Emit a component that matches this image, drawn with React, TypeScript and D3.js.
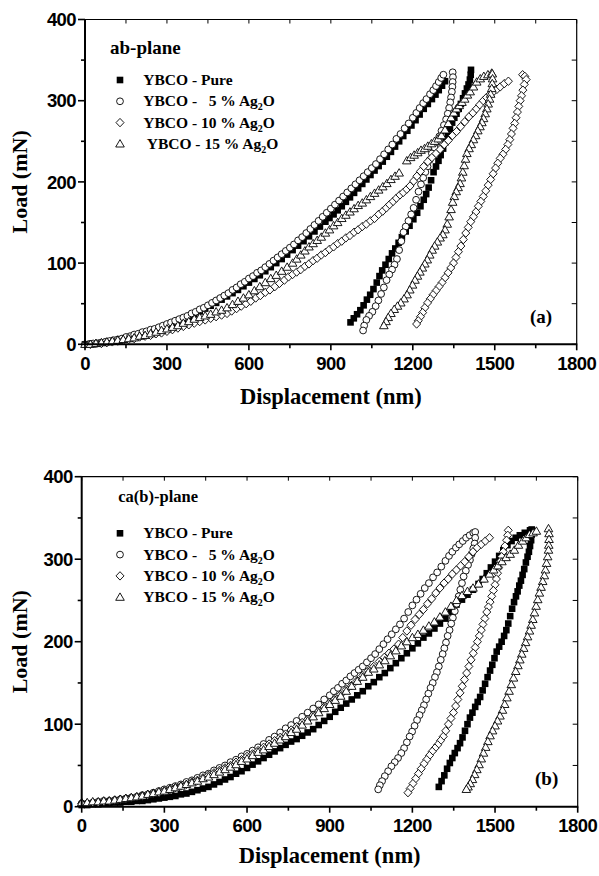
import React from 'react';
import * as d3 from 'd3';

type P = [number, number];

// ---------- axis ticks ----------
const xMajor = [0, 300, 600, 900, 1200, 1500, 1800];
const xMinor = [150, 450, 750, 1050, 1350, 1650];
const yMajor = [0, 100, 200, 300, 400];
const yMinor = [50, 150, 250, 350];

// ---------- legend ----------
const seriesKeys = ['pure', 'ag5', 'ag10', 'ag15'];
const legendPrefix = ['YBCO - Pure', 'YBCO -   5 % Ag', 'YBCO - 10 % Ag', 'YBCO - 15 % Ag'];
const legendSub = ['', '2', '2', '2'];
const legendTail = ['', 'O', 'O', 'O'];

// ---------- (a) ab-plane data: [displacement nm, load mN] ----------
const abPureLoad: P[] = [[0,0],[20,0.5],[40,1],[60,2],[80,3],[100,4],[120,5],[140,6.5],[160,8],[180,10],[200,12],[220,14],[240,16],[260,18.5],[280,21],[300,23.5],[320,26],[340,28.5],[360,31],[380,34],[400,37],[420,40.5],[440,44],[460,47.5],[480,51],[500,55],[520,59],[540,63],[560,67],[580,71.5],[600,76],[620,80.5],[640,85],[660,90],[680,95],[700,100],[720,105],[740,110.5],[760,116],[780,121.5],[800,127],[820,133],[840,139],[860,145],[880,151],[895,155.5],[910,160],[925,165],[940,170],[955,175.5],[970,181],[985,186.5],[1000,192],[1015,197.5],[1030,203],[1045,208.5],[1060,214],[1075,219.5],[1090,225],[1105,231],[1120,237],[1135,243.5],[1150,250],[1165,256.5],[1180,263],[1195,269.5],[1210,276],[1225,283],[1240,290],[1255,296],[1270,302],[1283,307.5],[1295,313],[1307,318.5],[1318,324]];
const abPureUnload: P[] = [[1413,338],[1412,332],[1409,326],[1404,320],[1398,315],[1391,309],[1384,303],[1376,296],[1368,290],[1360,284],[1352,279],[1344,273],[1336,265],[1328,257],[1320,249],[1311,241],[1302,233],[1294,226],[1285,219],[1276,212],[1267,202],[1258,193],[1249,185],[1240,178],[1228,170],[1216,162],[1202,154],[1188,146],[1174,139],[1160,132],[1148,125],[1136,118],[1124,112],[1112,105],[1100,98],[1088,91],[1078,84],[1068,76],[1056,68],[1044,61],[1032,55],[1020,48],[1008,42],[996,37],[984,32],[972,27]];
const ab5Load: P[] = [[0,0],[15,0],[30,1],[45,1],[60,2],[75,3],[90,4],[105,5],[120,6],[135,7],[150,9],[165,10],[180,12],[195,13],[210,15],[225,16],[240,18],[255,19],[270,21],[285,23],[300,25],[315,27],[330,29],[345,31],[360,33],[375,35],[390,38],[405,40],[420,43],[435,45],[450,48],[465,51],[480,54],[495,57],[510,60],[525,63],[540,67],[555,70],[570,74],[585,77],[600,81],[615,84],[630,88],[645,91],[660,95],[675,99],[690,103],[705,107],[720,111],[735,115],[750,119],[765,123],[780,128],[795,132],[810,137],[825,142],[840,147],[855,152],[870,157],[885,162],[900,167],[915,172],[930,177],[945,182],[960,187],[975,192],[990,197],[1005,202],[1020,207],[1035,212],[1050,217],[1065,222],[1080,228],[1095,234],[1110,240],[1125,246],[1140,253],[1155,259],[1170,266],[1185,272],[1200,279],[1213,285],[1225,291],[1238,297],[1250,302],[1263,308],[1275,313],[1285,318],[1295,323],[1304,328],[1312,332]];
const ab5Unload: P[] = [[1346,335],[1347,329],[1346,323],[1345,317],[1343,311],[1340,304],[1337,298],[1333,291],[1328,284],[1322,277],[1314,270],[1305,263],[1297,256],[1288,249],[1279,242],[1270,235],[1262,227],[1254,219],[1246,212],[1238,205],[1230,197],[1221,188],[1212,178],[1203,168],[1194,160],[1184,152],[1174,145],[1166,138],[1158,127],[1150,116],[1142,105],[1133,98],[1124,92],[1114,86],[1104,79],[1094,70],[1084,62],[1074,54],[1064,47],[1052,40],[1040,35],[1030,30],[1022,23],[1018,17]];
const ab10Load: P[] = [[0,0],[20,0],[40,1],[60,1],[80,2],[100,3],[120,4],[140,5],[160,6],[180,7],[200,9],[220,10],[240,11],[260,13],[280,14],[300,16],[320,18],[340,20],[360,22],[380,24],[400,26],[420,28],[440,30],[460,32],[480,34],[500,36],[520,38],[537,41],[555,44],[572,47],[590,50],[607,53],[625,57],[642,60],[660,64],[677,67],[695,71],[712,75],[730,79],[745,83],[760,86],[775,89],[790,92],[805,96],[820,99],[835,103],[850,106],[865,110],[880,113],[895,117],[910,120],[925,124],[940,127],[955,131],[970,134],[985,138],[1000,141],[1015,145],[1030,148],[1045,152],[1060,155],[1075,160],[1090,164],[1103,168],[1115,172],[1128,176],[1140,180],[1153,184],[1165,187],[1178,191],[1190,195],[1203,201],[1215,207],[1228,213],[1240,219],[1255,225],[1270,230],[1285,235],[1300,240],[1315,246],[1330,251],[1345,257],[1360,262],[1375,268],[1390,274],[1405,280],[1420,285],[1433,290],[1445,295],[1458,300],[1470,304],[1483,308],[1495,311],[1508,314],[1520,317],[1535,321],[1550,324]];
const ab10Unload: P[] = [[1602,332],[1610,330],[1615,326],[1608,320],[1603,313],[1598,306],[1593,300],[1588,293],[1583,286],[1578,279],[1573,272],[1567,266],[1561,259],[1555,252],[1548,246],[1540,240],[1530,234],[1520,229],[1511,223],[1503,217],[1494,210],[1485,203],[1476,196],[1467,189],[1458,182],[1449,176],[1440,170],[1431,163],[1422,157],[1412,151],[1403,144],[1394,137],[1385,129],[1376,121],[1367,114],[1358,107],[1349,100],[1339,94],[1329,88],[1318,82],[1307,76],[1296,71],[1285,66],[1274,61],[1264,56],[1254,51],[1244,45],[1236,39],[1228,34],[1220,29],[1214,25]];
const ab15Load: P[] = [[0,0],[20,0],[40,1],[60,2],[80,3],[100,4],[120,5],[140,6],[160,7],[180,8],[200,10],[220,11],[240,13],[260,15],[280,17],[300,19],[320,21],[340,23],[360,26],[380,28],[400,31],[420,33],[440,35],[460,37],[480,40],[500,42],[520,45],[540,49],[560,53],[580,57],[600,61],[620,66],[640,71],[660,76],[680,81],[700,85],[720,90],[740,95],[760,100],[775,105],[790,110],[805,115],[820,120],[835,124],[850,128],[865,132],[880,137],[895,141],[910,146],[925,150],[940,155],[955,159],[970,163],[985,167],[1000,171],[1015,174],[1030,178],[1045,182],[1060,186],[1075,190],[1090,194],[1105,198],[1120,203],[1135,207],[1150,211],[1178,226],[1192,230],[1205,233],[1218,236],[1230,239],[1243,241],[1255,244],[1268,247],[1280,250],[1293,253],[1305,257],[1318,264],[1330,272],[1340,279],[1350,285],[1360,290],[1370,294],[1380,298],[1390,302],[1400,307],[1410,311],[1422,317],[1434,323],[1447,327],[1460,330],[1475,332],[1489,334]];
const ab15Unload: P[] = [[1491,333],[1492,327],[1491,321],[1489,315],[1485,308],[1481,302],[1476,296],[1471,290],[1465,284],[1459,278],[1453,273],[1446,268],[1438,263],[1430,257],[1422,252],[1414,246],[1406,241],[1398,235],[1393,228],[1388,220],[1383,212],[1378,205],[1373,198],[1366,193],[1359,188],[1352,182],[1346,175],[1340,166],[1333,157],[1326,148],[1318,141],[1310,135],[1300,131],[1290,126],[1280,121],[1271,116],[1262,110],[1253,104],[1244,99],[1235,94],[1226,89],[1217,84],[1208,79],[1199,73],[1189,67],[1179,61],[1168,56],[1156,51],[1144,47],[1132,43],[1120,38],[1110,33],[1102,28],[1094,23]];

// ---------- (b) ca(b)-plane data ----------
const cbPureLoad: P[] = [[0,2],[20,2],[40,3],[60,3],[80,4],[100,4],[120,5],[140,5],[160,6],[180,6],[200,7],[220,7],[240,8],[260,9],[280,10],[300,11],[320,12],[340,13],[360,15],[380,16],[400,18],[420,20],[440,22],[460,24],[480,27],[500,30],[520,33],[540,36],[560,40],[580,43],[600,47],[620,51],[640,55],[660,59],[680,63],[700,67],[720,71],[740,75],[760,79],[780,82],[800,86],[820,90],[840,94],[860,99],[880,104],[900,109],[920,115],[940,120],[960,125],[980,130],[1000,135],[1020,140],[1040,146],[1060,151],[1080,157],[1100,162],[1120,168],[1140,174],[1160,180],[1180,186],[1200,192],[1220,198],[1240,205],[1260,210],[1280,216],[1300,222],[1320,228],[1340,236],[1360,245],[1380,251],[1400,257],[1420,263],[1440,270],[1455,276],[1470,283],[1485,290],[1500,297],[1515,304],[1530,311],[1545,317],[1560,322],[1575,326],[1590,329],[1608,332],[1627,335]];
const cbPureUnload: P[] = [[1633,336],[1633,330],[1631,323],[1627,316],[1623,309],[1618,303],[1612,296],[1606,288],[1600,281],[1594,274],[1588,268],[1582,261],[1576,255],[1569,248],[1562,240],[1555,231],[1548,222],[1541,214],[1533,207],[1524,200],[1515,194],[1506,188],[1498,180],[1490,172],[1482,165],[1473,157],[1464,149],[1455,141],[1446,133],[1437,127],[1428,121],[1418,114],[1409,108],[1400,100],[1391,92],[1382,84],[1373,77],[1364,71],[1354,65],[1345,59],[1336,53],[1326,46],[1316,38],[1306,31],[1296,24]];
const cb5Load: P[] = [[0,4],[20,4],[40,5],[60,6],[80,7],[100,7],[120,8],[140,9],[160,10],[180,11],[200,12],[220,14],[240,15],[260,17],[280,19],[300,21],[320,23],[340,25],[360,27],[380,30],[400,32],[420,35],[440,38],[460,40],[480,44],[500,47],[520,50],[540,54],[560,57],[580,61],[600,64],[620,68],[640,72],[660,76],[680,81],[700,85],[720,90],[740,95],[760,99],[780,104],[800,109],[820,114],[840,119],[860,124],[880,130],[900,135],[915,140],[930,144],[945,149],[960,153],[975,158],[990,162],[1005,166],[1020,170],[1035,175],[1050,180],[1065,185],[1080,191],[1095,197],[1110,203],[1125,209],[1140,215],[1155,221],[1170,228],[1185,236],[1200,244],[1215,251],[1230,258],[1245,265],[1260,271],[1275,278],[1290,284],[1305,291],[1320,298],[1333,304],[1345,309],[1358,314],[1370,318],[1383,322],[1395,326],[1408,329],[1421,332]];
const cb5Unload: P[] = [[1428,333],[1428,326],[1426,319],[1421,313],[1415,306],[1409,299],[1402,293],[1394,286],[1386,279],[1380,271],[1374,263],[1368,255],[1361,246],[1354,237],[1347,229],[1341,222],[1335,214],[1328,207],[1322,199],[1316,192],[1310,185],[1303,178],[1296,170],[1289,163],[1282,157],[1274,150],[1266,144],[1258,137],[1250,130],[1242,123],[1234,117],[1226,111],[1217,105],[1208,98],[1199,91],[1190,85],[1180,78],[1170,71],[1160,65],[1148,59],[1136,54],[1124,49],[1112,43],[1100,37],[1090,31],[1082,26],[1076,21]];
const cb10Load: P[] = [[0,4],[20,4],[40,5],[60,5],[80,6],[100,7],[120,8],[140,9],[160,10],[180,11],[200,12],[220,13],[240,14],[260,16],[280,17],[300,19],[320,21],[340,23],[360,25],[380,27],[400,30],[420,32],[440,35],[460,38],[480,41],[500,44],[520,47],[540,50],[560,54],[580,57],[600,61],[620,64],[640,68],[660,72],[680,76],[700,80],[720,84],[740,88],[760,93],[780,97],[800,102],[820,106],[840,111],[860,116],[880,121],[900,126],[920,131],[940,136],[960,142],[980,147],[1000,153],[1020,159],[1040,165],[1060,170],[1080,176],[1098,181],[1115,186],[1133,191],[1150,197],[1165,205],[1180,213],[1195,220],[1210,227],[1225,233],[1240,239],[1255,246],[1270,252],[1285,259],[1300,265],[1315,271],[1330,276],[1345,282],[1360,287],[1375,292],[1390,297],[1405,303],[1420,309],[1435,314],[1450,318],[1465,322],[1480,326]];
const cb10Unload: P[] = [[1548,335],[1546,329],[1542,323],[1536,316],[1530,309],[1524,303],[1518,297],[1513,290],[1509,283],[1505,276],[1500,269],[1494,262],[1488,255],[1482,248],[1476,242],[1470,236],[1463,228],[1456,221],[1450,214],[1443,207],[1436,200],[1428,193],[1421,186],[1413,178],[1405,170],[1397,162],[1389,154],[1381,146],[1373,138],[1365,130],[1357,122],[1349,114],[1340,107],[1331,100],[1321,92],[1312,85],[1302,80],[1292,75],[1282,71],[1272,67],[1262,62],[1252,57],[1242,52],[1232,46],[1222,40],[1212,34],[1202,28],[1192,22],[1184,17]];
const cb15Load: P[] = [[0,5],[20,5],[40,6],[60,6],[80,7],[100,7],[120,8],[140,9],[160,10],[180,11],[200,12],[220,13],[240,15],[260,16],[280,18],[300,19],[320,21],[340,23],[360,25],[380,27],[400,29],[420,31],[440,34],[460,36],[480,39],[500,42],[520,45],[540,48],[560,51],[580,55],[600,58],[620,62],[640,66],[660,69],[680,73],[700,77],[720,81],[740,85],[760,90],[780,94],[800,99],[820,104],[840,109],[860,114],[880,119],[900,124],[920,129],[940,134],[960,140],[980,146],[1000,152],[1020,157],[1040,163],[1060,167],[1080,172],[1100,177],[1120,183],[1140,189],[1160,195],[1180,200],[1200,205],[1220,209],[1240,214],[1260,219],[1280,224],[1300,230],[1320,236],[1340,243],[1360,250],[1380,256],[1400,261],[1420,265],[1440,270],[1460,276],[1480,282],[1495,287],[1510,292],[1525,297],[1540,302],[1555,306],[1570,311],[1585,317],[1600,322],[1613,326],[1625,330],[1638,332],[1650,334]];
const cb15Unload: P[] = [[1694,337],[1696,331],[1696,324],[1695,317],[1694,311],[1691,303],[1687,295],[1683,287],[1679,280],[1673,273],[1667,266],[1661,259],[1655,251],[1649,243],[1643,235],[1637,227],[1631,220],[1625,213],[1618,206],[1611,199],[1604,192],[1597,185],[1590,178],[1583,171],[1575,164],[1567,156],[1559,148],[1551,140],[1543,132],[1535,124],[1527,117],[1518,110],[1509,104],[1500,98],[1491,92],[1482,86],[1474,79],[1466,72],[1458,65],[1450,58],[1442,51],[1434,45],[1426,39],[1418,33],[1410,28],[1402,24],[1396,21]];

const SERIF = '"Liberation Serif", "Times New Roman", serif';
const SANS = '"Liberation Sans", Arial, sans-serif';

function marker(kind: string, x: number, y: number, key: string) {
  if (kind === 'pure') {
    return <rect key={key} x={x - 3.3} y={y - 3.3} width={6.6} height={6.6} fill="#000" />;
  }
  if (kind === 'ag5') {
    return <circle key={key} cx={x} cy={y} r={3.4} fill="#fff" stroke="#000" strokeWidth={0.9} />;
  }
  if (kind === 'ag10') {
    return <path key={key} d={`M${x},${y - 4.2}L${x + 4},${y}L${x},${y + 4.2}L${x - 4},${y}Z`} fill="#fff" stroke="#000" strokeWidth={0.9} />;
  }
  return <path key={key} d={`M${x},${y - 4.3}L${x + 4.3},${y + 3.1}L${x - 4.3},${y + 3.1}Z`} fill="#fff" stroke="#000" strokeWidth={0.9} />;
}

interface PanelProps {
  x0: number; x1: number; yTop: number; yBot: number;
  title: string; titleSize: number; titleX: number; titleY: number;
  legendY: number; legendXs: number[];
  tag: string; tagX: number; tagY: number;
  xTitleY: number;
  series: { load: P[]; unload: P[] }[];
}

function Panel(p: PanelProps) {
  const x = d3.scaleLinear().domain([0, 1800]).range([p.x0, p.x1]);
  const y = d3.scaleLinear().domain([0, 400]).range([p.yBot, p.yTop]);
  const els: React.ReactNode[] = [];
  p.series.forEach((s, si) => {
    const kind = seriesKeys[si];
    s.load.forEach((d, i) => els.push(marker(kind, x(d[0]), y(d[1]), `l${si}-${i}`)));
    s.unload.forEach((d, i) => els.push(marker(kind, x(d[0]), y(d[1]), `u${si}-${i}`)));
  });
  const cy = (p.yTop + p.yBot) / 2;
  const cx = (p.x0 + p.x1) / 2;
  return (
    <g>
      {els}
      <line x1={p.x0} x2={p.x1} y1={p.yTop} y2={p.yTop} stroke="#000" strokeWidth={1.2} />
      <line x1={p.x1} x2={p.x1} y1={p.yTop} y2={p.yBot} stroke="#000" strokeWidth={1.2} />
      <line x1={p.x0} x2={p.x0} y1={p.yTop - 0.5} y2={p.yBot + 1} stroke="#000" strokeWidth={2} />
      <line x1={p.x0 - 1} x2={p.x1 + 0.6} y1={p.yBot} y2={p.yBot} stroke="#000" strokeWidth={2} />
      {xMajor.map(v => <line key={'xb' + v} x1={x(v)} x2={x(v)} y1={p.yBot} y2={p.yBot + 6} stroke="#000" strokeWidth={1.6} />)}
      {xMinor.map(v => <line key={'xbm' + v} x1={x(v)} x2={x(v)} y1={p.yBot} y2={p.yBot + 4} stroke="#000" strokeWidth={1.6} />)}
      {xMajor.concat(xMinor).map(v => <line key={'xt' + v} x1={x(v)} x2={x(v)} y1={p.yTop} y2={p.yTop + 4} stroke="#000" strokeWidth={1} />)}
      {yMajor.map(v => <line key={'yl' + v} x1={p.x0 - 7} x2={p.x0} y1={y(v)} y2={y(v)} stroke="#000" strokeWidth={1.6} />)}
      {yMinor.map(v => <line key={'ylm' + v} x1={p.x0 - 4} x2={p.x0} y1={y(v)} y2={y(v)} stroke="#000" strokeWidth={1.6} />)}
      {yMajor.concat(yMinor).map(v => <line key={'yr' + v} x1={p.x1 - 5} x2={p.x1} y1={y(v)} y2={y(v)} stroke="#000" strokeWidth={1} />)}
      {xMajor.map(v => (
        <text key={'xl' + v} x={x(v)} y={p.yBot + 25.5} textAnchor="middle" fontFamily={SANS} fontWeight="bold" fontSize={18.5} letterSpacing={-0.6}>{v}</text>
      ))}
      {yMajor.map(v => (
        <text key={'yll' + v} x={p.x0 - 9} y={y(v)} dy="0.36em" textAnchor="end" fontFamily={SANS} fontWeight="bold" fontSize={18.5} letterSpacing={-0.6}>{v}</text>
      ))}
      <text x={cx} y={p.xTitleY} textAnchor="middle" fontFamily={SERIF} fontWeight="bold" fontSize={22.5}>Displacement (nm)</text>
      <text transform={`translate(27,${cy}) rotate(-90)`} textAnchor="middle" fontFamily={SERIF} fontWeight="bold" fontSize={22}>Load (mN)</text>
      <text x={p.titleX} y={p.titleY} fontFamily={SERIF} fontWeight="bold" fontSize={p.titleSize}>{p.title}</text>
      {seriesKeys.map((k, i) => {
        const ly = p.legendY + i * 21.3;
        return (
          <g key={'lg' + k}>
            {marker(k, 120, ly - 5, 'lm' + k)}
            <text x={p.legendXs[i]} y={ly} fontFamily={SERIF} fontWeight="bold" fontSize={15.5} style={{ whiteSpace: 'pre' }}>
              {legendPrefix[i]}
              {legendSub[i] ? <tspan fontSize={10} dy={4}>{legendSub[i]}</tspan> : null}
              {legendTail[i] ? <tspan dy={legendSub[i] ? -4 : 0}>{legendTail[i]}</tspan> : null}
            </text>
          </g>
        );
      })}
      <text x={p.tagX} y={p.tagY} fontFamily={SERIF} fontWeight="bold" fontSize={19}>{p.tag}</text>
    </g>
  );
}

export default function App() {
  return (
    <svg width={599} height={876} style={{ position: 'absolute', left: 0, top: 0, background: '#fff' }}>
      <rect width={599} height={876} fill="#fff" />
      <Panel
        x0={85} x1={576.7} yTop={19.5} yBot={344.3}
        title="ab-plane" titleSize={19} titleX={110} titleY={53.5}
        legendY={85} legendXs={[143.3, 143.3, 143.3, 146.7]}
        tag="(a)" tagX={530} tagY={323}
        xTitleY={404}
        series={[
          { load: abPureLoad, unload: abPureUnload },
          { load: ab5Load, unload: ab5Unload },
          { load: ab10Load, unload: ab10Unload },
          { load: ab15Load, unload: ab15Unload },
        ]}
      />
      <Panel
        x0={81.7} x1={577.7} yTop={476.7} yBot={806.7}
        title="ca(b)-plane" titleSize={16.5} titleX={118.3} titleY={502}
        legendY={538.3} legendXs={[143.3, 143.3, 143.3, 143.3]}
        tag="(b)" tagX={535} tagY={785}
        xTitleY={863}
        series={[
          { load: cbPureLoad, unload: cbPureUnload },
          { load: cb5Load, unload: cb5Unload },
          { load: cb10Load, unload: cb10Unload },
          { load: cb15Load, unload: cb15Unload },
        ]}
      />
    </svg>
  );
}
